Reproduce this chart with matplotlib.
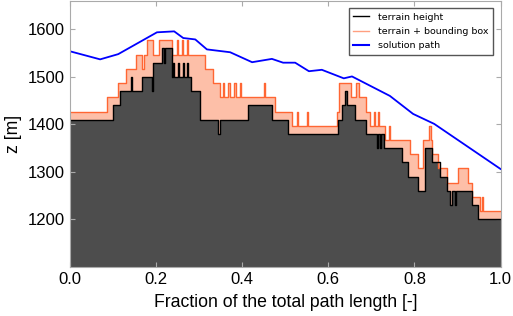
import numpy as np
import matplotlib
matplotlib.use("Agg")
import matplotlib.pyplot as plt

# terrain height along the path (step profile, value holds until next x)
terrain_x = [0.000, 0.099, 0.116, 0.142, 0.145, 0.167, 0.190, 0.193, 0.213, 0.218,
             0.221, 0.236, 0.239, 0.242, 0.251, 0.254, 0.262, 0.265, 0.272, 0.275,
             0.280, 0.302, 0.344, 0.348, 0.413, 0.470, 0.506, 0.623, 0.632, 0.639,
             0.643, 0.662, 0.688, 0.713, 0.716, 0.720, 0.723, 0.729, 0.771, 0.785,
             0.808, 0.825, 0.841, 0.859, 0.876, 0.883, 0.887, 0.894, 0.897, 0.934,
             0.948]
terrain_z = [1410, 1440, 1470, 1500, 1470, 1500, 1470, 1530, 1560, 1530,
             1560, 1500, 1530, 1500, 1530, 1500, 1530, 1500, 1530, 1500,
             1470, 1410, 1380, 1410, 1440, 1410, 1380, 1410, 1440, 1470,
             1440, 1410, 1380, 1350, 1380, 1350, 1380, 1350, 1320, 1290,
             1260, 1350, 1320, 1290, 1260, 1230, 1260, 1230, 1260, 1230,
             1200]

# terrain + bounding box
bbox_x = [0.000, 0.087, 0.111, 0.130, 0.153, 0.167, 0.172, 0.179, 0.193, 0.207,
          0.237, 0.249, 0.252, 0.260, 0.263, 0.271, 0.274, 0.313, 0.332, 0.348,
          0.355, 0.358, 0.368, 0.371, 0.382, 0.385, 0.395, 0.398, 0.451, 0.454,
          0.476, 0.516, 0.527, 0.530, 0.550, 0.553, 0.620, 0.625, 0.653, 0.664,
          0.671, 0.688, 0.697, 0.706, 0.709, 0.715, 0.718, 0.732, 0.740, 0.743,
          0.790, 0.808, 0.820, 0.834, 0.839, 0.841, 0.855, 0.876, 0.901, 0.925,
          0.934, 0.952, 0.957, 0.960]
bbox_z = [1427, 1457, 1487, 1517, 1547, 1517, 1547, 1577, 1547, 1577,
          1547, 1577, 1547, 1577, 1547, 1577, 1547, 1517, 1487, 1457,
          1487, 1457, 1487, 1457, 1487, 1457, 1487, 1457, 1487, 1457,
          1427, 1397, 1427, 1397, 1427, 1397, 1427, 1487, 1457, 1487,
          1457, 1427, 1397, 1427, 1397, 1427, 1397, 1367, 1397, 1367,
          1337, 1307, 1367, 1397, 1367, 1337, 1307, 1277, 1307, 1277,
          1247, 1217, 1247, 1217]

# solution path
path_x = [0.000, 0.070, 0.112, 0.202, 0.242, 0.263, 0.291, 0.318, 0.372, 0.423,
          0.469, 0.495, 0.523, 0.555, 0.585, 0.636, 0.655, 0.743, 0.797, 0.846,
          1.000]
path_z = [1554, 1537, 1548, 1594, 1596, 1582, 1579, 1558, 1552, 1531,
          1538, 1530, 1530, 1512, 1515, 1497, 1501, 1460, 1422, 1401,
          1306]


def step_at(xs, zs, grid):
    idx = np.searchsorted(xs, grid, side="right") - 1
    return np.asarray(zs)[idx]


grid = np.union1d(terrain_x, bbox_x)
grid = np.append(grid, 1.0)
t = step_at(terrain_x, terrain_z, grid)
b = step_at(bbox_x, bbox_z, grid)

fig = plt.figure(figsize=(5.13, 3.16), dpi=100)
ax = fig.add_axes([70 / 513, 1 - 266.7 / 316, 430.5 / 513, 265.7 / 316])
ymin, ymax = 1100, 1660

ax.fill_between(grid, ymin, t, step="post", color="#4d4d4d", lw=0)
ax.fill_between(grid, t, b, step="post", color="#fdbfa8", lw=0)
ax.step(grid, b, where="post", color="#ff6633", lw=1.0)
ax.step(grid, t, where="post", color="black", lw=1.0)
ax.plot(path_x, path_z, color="#0000ff", lw=1.3)

# legend handles
h1, = ax.plot([], [], color="black", lw=1.0, label="terrain height")
h2, = ax.plot([], [], color="#ff9f80", lw=1.0, label="terrain + bounding box")
h3, = ax.plot([], [], color="#0000ff", lw=1.5, label="solution path")
leg = ax.legend(handles=[h1, h2, h3], loc="upper right", fontsize=6.8,
                fancybox=False, framealpha=1, borderpad=0.5,
                labelspacing=0.55, handlelength=1.7, handletextpad=0.9,
                borderaxespad=0, bbox_to_anchor=(0.983, 0.974))
leg.get_frame().set_edgecolor("#555555")

ax.set_xlim(0, 1)
ax.set_ylim(ymin, ymax)
ax.set_xticks([0.0, 0.2, 0.4, 0.6, 0.8, 1.0])
ax.set_yticks([1200, 1300, 1400, 1500, 1600])
ax.tick_params(direction="in", top=True, right=True, color="#aaaaaa",
               labelsize=12)
for lab in ax.get_xticklabels() + ax.get_yticklabels():
    lab.set_family("Liberation Sans")
for s in ax.spines.values():
    s.set_color("#aaaaaa")
ax.set_xlabel("Fraction of the total path length [-]", fontsize=12.7,
              family="Liberation Sans", labelpad=5)
ax.set_ylabel("z [m]", fontsize=12.7, family="Liberation Sans")

fig.savefig("out.png", dpi=100)
